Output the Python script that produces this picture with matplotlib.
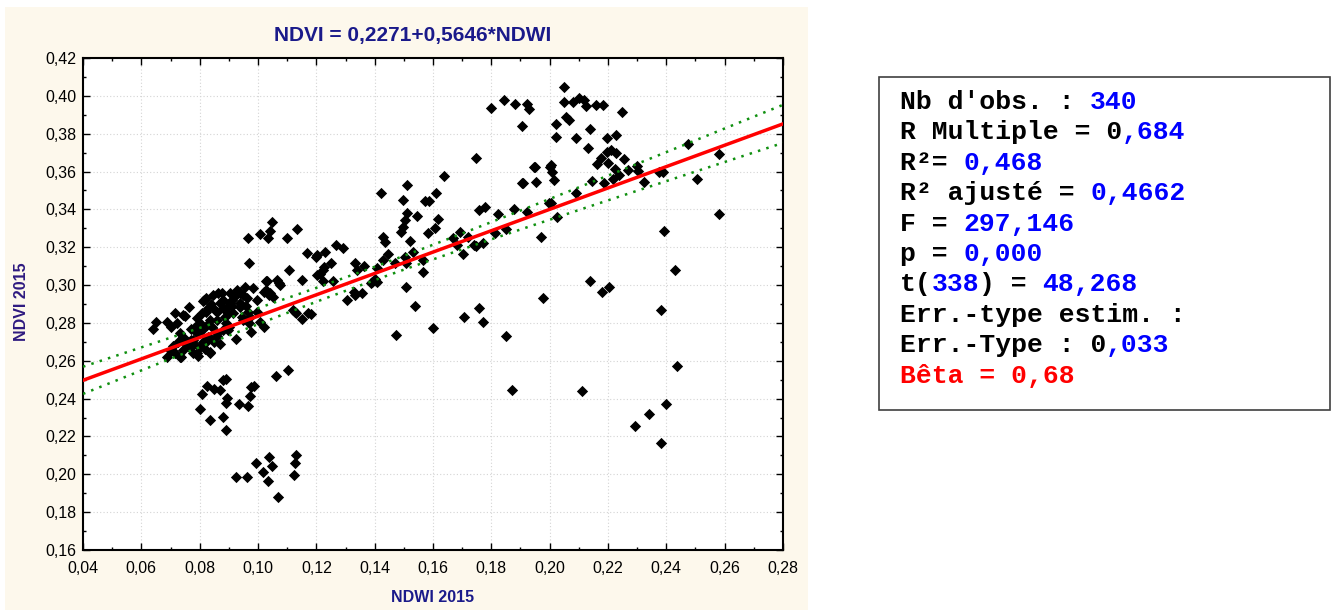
import numpy as np
import matplotlib.pyplot as plt
from matplotlib.patches import Rectangle
from matplotlib.ticker import MultipleLocator, FuncFormatter

# NDWI 2015 / NDVI 2015 pairs, grouped by area of the scatter
low_cluster = [
    (0.0800, 0.2345), (0.0808, 0.2424), (0.0825, 0.2468), (0.0849, 0.2449),
    (0.0870, 0.2445), (0.0881, 0.2498), (0.0889, 0.2505), (0.0893, 0.2401),
    (0.0889, 0.2378), (0.0834, 0.2285), (0.0879, 0.2304), (0.0889, 0.2232),
    (0.0935, 0.2373), (0.0967, 0.2361), (0.0973, 0.2414), (0.0976, 0.2463),
    (0.0985, 0.2468), (0.0925, 0.1984), (0.0963, 0.1984), (0.0993, 0.2061),
    (0.1018, 0.2012), (0.1033, 0.1966), (0.1039, 0.2093), (0.1049, 0.2045),
    (0.1068, 0.1878), (0.1104, 0.2551), (0.1061, 0.2521), (0.1123, 0.1996),
    (0.1128, 0.2061), (0.1130, 0.2102),
]

main_cluster = [
    (0.0639, 0.2766), (0.0652, 0.2806), (0.0687, 0.2806), (0.0701, 0.2777),
    (0.0716, 0.2851), (0.0721, 0.2798), (0.0750, 0.2836), (0.0764, 0.2882),
    (0.0687, 0.2618), (0.0716, 0.2639), (0.0735, 0.2621), (0.0727, 0.2700),
    (0.0744, 0.2727), (0.0755, 0.2683), (0.0767, 0.2666), (0.0778, 0.2710),
    (0.0784, 0.2780), (0.0790, 0.2824), (0.0801, 0.2674), (0.0792, 0.2639),
    (0.0807, 0.2851), (0.0815, 0.2921), (0.0823, 0.2930), (0.0821, 0.2859),
    (0.0830, 0.2727), (0.0835, 0.2639), (0.0841, 0.2780), (0.0847, 0.2947),
    (0.0858, 0.2859), (0.0870, 0.2688), (0.0875, 0.2956), (0.0881, 0.2921),
    (0.0886, 0.2833), (0.0893, 0.2886), (0.0898, 0.2762), (0.0910, 0.2921),
    (0.0915, 0.2851), (0.0927, 0.2974), (0.0925, 0.2713), (0.0938, 0.2886),
    (0.0944, 0.2833), (0.0955, 0.2991), (0.0961, 0.2930), (0.0967, 0.2859),
    (0.0970, 0.2798), (0.0975, 0.2753), (0.0982, 0.2983), (0.0995, 0.2921),
    (0.1022, 0.2780), (0.1029, 0.3020), (0.1022, 0.2965), (0.1039, 0.2947),
    (0.1066, 0.3027), (0.1074, 0.3000), (0.1121, 0.2868), (0.1132, 0.2851),
    (0.1150, 0.2819), (0.1172, 0.2851), (0.1150, 0.3027), (0.0744, 0.2842),
    (0.0812, 0.2917), (0.0864, 0.2956), (0.0904, 0.2956), (0.1041, 0.2956),
    (0.0852, 0.2868), (0.0870, 0.2903), (0.0904, 0.2903), (0.0938, 0.2903),
    (0.0898, 0.2851), (0.0950, 0.2815), (0.0973, 0.2833), (0.0995, 0.2859),
    (0.1007, 0.2806), (0.0733, 0.2745), (0.0772, 0.2710), (0.0790, 0.2745),
    (0.0807, 0.2762), (0.0824, 0.2789), (0.0835, 0.2815), (0.0858, 0.2815),
    (0.0744, 0.2657), (0.0778, 0.2639), (0.0818, 0.2692), (0.0835, 0.2648),
    (0.0795, 0.2625), (0.0733, 0.2618), (0.0835, 0.2719), (0.0858, 0.2745),
    (0.0881, 0.2762), (0.0700, 0.2650), (0.0710, 0.2680), (0.0760, 0.2700),
    (0.0780, 0.2690), (0.0810, 0.2700), (0.0820, 0.2660), (0.0850, 0.2700),
    (0.0860, 0.2730), (0.0890, 0.2800), (0.0900, 0.2780), (0.0880, 0.2880),
    (0.0910, 0.2890), (0.0920, 0.2940), (0.0950, 0.2950), (0.0960, 0.2890),
    (0.0940, 0.2960), (0.0840, 0.2900), (0.0830, 0.2880), (0.0800, 0.2800),
    (0.0770, 0.2770), (0.1027, 0.2974), (0.1052, 0.2938), (0.1127, 0.2859),
    (0.1182, 0.2847),
]

mid_band = [
    (0.0967, 0.3250), (0.1007, 0.3270), (0.1035, 0.3250), (0.1041, 0.3287),
    (0.1047, 0.3335), (0.1100, 0.3247), (0.1135, 0.3295), (0.0970, 0.3115),
    (0.1030, 0.3021), (0.1072, 0.3013), (0.1106, 0.3079), (0.1169, 0.3171),
    (0.1199, 0.3150), (0.1202, 0.3160), (0.1230, 0.3176), (0.1267, 0.3212),
    (0.1292, 0.3194), (0.1249, 0.3115), (0.1222, 0.3079), (0.1212, 0.3056),
    (0.1201, 0.3053), (0.1224, 0.3021), (0.1333, 0.3118), (0.1339, 0.3079),
    (0.1363, 0.3101), (0.1329, 0.2965), (0.1304, 0.2921), (0.1390, 0.3018),
    (0.1358, 0.2960), (0.1333, 0.2947), (0.1227, 0.3094), (0.1256, 0.3020),
    (0.1386, 0.3009), (0.1401, 0.3030), (0.1747, 0.3670), (0.1638, 0.3576),
    (0.1512, 0.3529), (0.1421, 0.3488), (0.1496, 0.3449), (0.1612, 0.3488),
    (0.1572, 0.3444), (0.1586, 0.3446), (0.1512, 0.3382), (0.1546, 0.3366),
    (0.1504, 0.3344), (0.1498, 0.3308), (0.1492, 0.3282), (0.1618, 0.3347),
    (0.1584, 0.3277), (0.1607, 0.3300), (0.1427, 0.3256), (0.1435, 0.3229),
    (0.1521, 0.3235), (0.1447, 0.3164), (0.1430, 0.3132), (0.1532, 0.3176),
    (0.1504, 0.3147), (0.1507, 0.3115), (0.1470, 0.3115), (0.1407, 0.3088),
    (0.1407, 0.3018), (0.1567, 0.3132), (0.1564, 0.3071), (0.1507, 0.2988),
    (0.1670, 0.3247), (0.1693, 0.3282), (0.1683, 0.3212), (0.1704, 0.3164),
    (0.1721, 0.3253), (0.1747, 0.3206), (0.1772, 0.3224), (0.1741, 0.3212),
    (0.1759, 0.3397), (0.1778, 0.3414), (0.1824, 0.3376), (0.1852, 0.3295),
    (0.1813, 0.3274), (0.1878, 0.3400), (0.1921, 0.3388), (0.1907, 0.3538),
    (0.1953, 0.3546), (0.1947, 0.3626), (0.1972, 0.3256), (0.1998, 0.3432),
    (0.1978, 0.2930), (0.2001, 0.3626), (0.2025, 0.3360), (0.1538, 0.2889),
    (0.1473, 0.2734), (0.1601, 0.2771), (0.1708, 0.2829), (0.1759, 0.2877),
    (0.1773, 0.2805), (0.1850, 0.2731), (0.1872, 0.2445),
]

top_cluster = [
    (0.2049, 0.4045), (0.1799, 0.3934), (0.1843, 0.3978), (0.1881, 0.3957),
    (0.1921, 0.3957), (0.1930, 0.3929), (0.1905, 0.3841), (0.2049, 0.3969),
    (0.2079, 0.3966), (0.2102, 0.3990), (0.2118, 0.3978), (0.2125, 0.3948),
    (0.2158, 0.3952), (0.2182, 0.3952), (0.2247, 0.3916), (0.2056, 0.3890),
    (0.2067, 0.3872), (0.2022, 0.3850), (0.2022, 0.3781), (0.2089, 0.3776),
    (0.2138, 0.3823), (0.2195, 0.3776), (0.2227, 0.3793), (0.2132, 0.3726),
    (0.2195, 0.3705), (0.2212, 0.3716), (0.2227, 0.3696), (0.2175, 0.3670),
    (0.2161, 0.3638), (0.2201, 0.3643), (0.2255, 0.3666), (0.2224, 0.3613),
    (0.2300, 0.3631), (0.2304, 0.3605), (0.2267, 0.3608), (0.2239, 0.3582),
    (0.2218, 0.3560), (0.2186, 0.3538), (0.2323, 0.3546), (0.2146, 0.3550),
    (0.1950, 0.3626), (0.2005, 0.3634), (0.2007, 0.3599), (0.2015, 0.3555),
    (0.1904, 0.3538), (0.2092, 0.3485), (0.2003, 0.3432),
]

right_side = [
    (0.2473, 0.3745), (0.2581, 0.3691), (0.2504, 0.3559), (0.2581, 0.3374),
    (0.2376, 0.3599), (0.2387, 0.3596), (0.2393, 0.3284), (0.2430, 0.3078),
    (0.2138, 0.3023), (0.2179, 0.2962), (0.2202, 0.2991), (0.2382, 0.2868),
    (0.2435, 0.2574), (0.2110, 0.2442), (0.2399, 0.2370), (0.2339, 0.2320),
    (0.2294, 0.2257), (0.2381, 0.2167),
]

# fitted model and summary
intercept = 0.2271
slope = 0.5646
n_obs = 340
std_err = 0.033
t_crit = 1.967

stats_lines = [
    [("Nb d'obs. : ", 'k'), ("340", 'b')],
    [("R Multiple = 0", 'k'), (",684", 'b')],
    [("R²= ", 'k'), ("0,468", 'b')],
    [("R² ajusté = ", 'k'), ("0,4662", 'b')],
    [("F = ", 'k'), ("297,146", 'b')],
    [("p = ", 'k'), ("0,000", 'b')],
    [("t(", 'k'), ("338", 'b'), (") = ", 'k'), ("48,268", 'b')],
    [("Err.-type estim. :", 'k')],
    [("Err.-Type : 0", 'k'), (",033", 'b')],
    [("Bêta = 0,68", 'r')],
]

COLORS = {'k': '#000000', 'b': '#0000FF', 'r': '#FF0000'}
NAVY = '#1a1a8a'
CREAM = '#FDF8EC'
NARROW = ['Liberation Sans Narrow', 'Liberation Sans', 'DejaVu Sans']

pts = np.array(low_cluster + main_cluster + mid_band + top_cluster + right_side)
ndwi, ndvi = pts[:, 0], pts[:, 1]

W, H = 1336, 610
fig = plt.figure(figsize=(W / 100, H / 100), dpi=100)
fig.patch.set_facecolor('white')

# cream panel behind the chart
fig.patches.append(Rectangle((5 / W, 0), 803 / W, 1 - 7 / H, transform=fig.transFigure,
                             facecolor=CREAM, edgecolor='none', zorder=-5))

ax = fig.add_axes([83 / W, 1 - 550 / H, 700 / W, 492 / H])
ax.set_zorder(2)
ax.set_facecolor('white')
ax.set_xlim(0.04, 0.28)
ax.set_ylim(0.16, 0.42)

ax.xaxis.set_major_locator(MultipleLocator(0.02))
ax.xaxis.set_minor_locator(MultipleLocator(0.01))
ax.yaxis.set_major_locator(MultipleLocator(0.02))
ax.yaxis.set_minor_locator(MultipleLocator(0.01))
comma = FuncFormatter(lambda v, pos: f"{v:.2f}".replace('.', ','))
ax.xaxis.set_major_formatter(comma)
ax.yaxis.set_major_formatter(comma)

ax.tick_params(which='both', direction='in', top=True, right=True, width=1)
ax.tick_params(which='major', length=5)
ax.tick_params(which='minor', length=2.5)
ax.tick_params(axis='x', pad=8)
ax.tick_params(axis='y', pad=5)
for lbl in ax.get_xticklabels() + ax.get_yticklabels():
    lbl.set_family(NARROW)
    lbl.set_fontsize(11.5)
for sp in ax.spines.values():
    sp.set_linewidth(1.5)

ax.grid(True, which='major', color='#d4d4d4', linestyle=(0, (1, 2)), linewidth=0.8)
ax.set_axisbelow(True)

ax.scatter(ndwi, ndvi, marker='D', s=33, color='black', linewidths=0, zorder=2)

# regression line and 95% confidence band of the mean
xs = np.linspace(0.04, 0.28, 200)
fit = intercept + slope * xs
xbar = ndwi.mean()
sxx = n_obs * ndwi.var()
half = t_crit * std_err * np.sqrt(1 / n_obs + (xs - xbar) ** 2 / sxx)
ax.plot(xs, fit + half, color='#109010', linestyle=(0, (1, 2.5)), linewidth=1.8, zorder=3)
ax.plot(xs, fit - half, color='#109010', linestyle=(0, (1, 2.5)), linewidth=1.8, zorder=3)
ax.plot(xs, fit, color='#FF0000', linewidth=2.5, zorder=4)

fig.text(413 / W, 1 - 35 / H, 'NDVI = 0,2271+0,5646*NDWI', ha='center', va='center',
         fontsize=15, fontweight='bold', color=NAVY, family=NARROW)
fig.text(433 / W, 1 - 598 / H, 'NDWI 2015', ha='center', va='center',
         fontsize=11.5, fontweight='bold', color=NAVY, family=NARROW)
fig.text(22 / W, 1 - 302 / H, 'NDVI 2015', ha='center', va='center', rotation=90,
         fontsize=11.5, fontweight='bold', color='#2e1a80', family=NARROW)

# summary box on the right
fig.patches.append(Rectangle((879 / W, 1 - 410 / H), 451 / W, 333 / H, transform=fig.transFigure,
                             facecolor='white', edgecolor='#404040', linewidth=1.2, zorder=1))
fs = 19
char_w = 0.6 * fs * 100 / 72
for i, line in enumerate(stats_lines):
    y = 1 - (102 + 30.4 * i) / H
    col = 0
    for txt, c in line:
        fig.text((900 + col * char_w) / W, y, txt, ha='left', va='center',
                 fontsize=fs, fontweight='bold', color=COLORS[c],
                 family=['Liberation Mono', 'DejaVu Sans Mono'])
        col += len(txt)

fig.savefig('out.png', dpi=100, facecolor='white')
